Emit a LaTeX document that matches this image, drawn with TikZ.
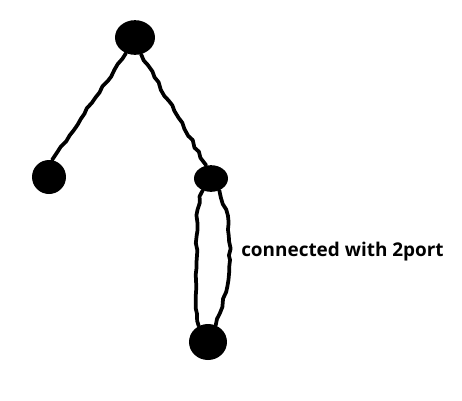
\documentclass[tikz,border=0pt]{standalone}
\usepackage{fontspec}
\setmainfont{Open Sans}
\usetikzlibrary{positioning}
\usetikzlibrary{shapes.geometric}
\usetikzlibrary{decorations.pathmorphing}

\tikzset{
  blob/.style={fill=black, ellipse, inner sep=0pt},
  wire/.style={black, line width=2.8pt, line cap=round, line join=round,
    decorate, decoration={random steps, segment length=5pt, amplitude=0.9pt}}
}

\begin{document}
\begin{tikzpicture}[x=0.75pt, y=-0.75pt]
\pgfmathsetseed{7}
\useasboundingbox (0,0) rectangle (462,401);

% nodes
\node[blob, minimum width=30pt, minimum height=26pt] (top) at (135,37.5) {};
\node[blob, minimum width=25.5pt, minimum height=25.5pt] (left) at (49,177) {};
\node[blob, minimum width=25.5pt, minimum height=20pt] (right) at (211,178.5) {};
\node[blob, minimum width=28.5pt, minimum height=27pt] (bottom) at (208,342) {};

% tree edges
\draw[wire] (top.-120) -- (left.80);
\draw[wire] (top.-70) -- (right.110);

% 2port
\draw[wire] (right.-125) to[out=-110, in=90] (197,255) to[out=-90, in=100] (bottom.120);
\draw[wire] (right.-55) to[out=-70, in=90] (230,260) to[out=-90, in=75] (bottom.65);

\node[anchor=west, inner sep=0pt, font=\bfseries\fontsize{14.2pt}{16pt}\selectfont] (label) at (241,251.5) {connected with 2port};

\end{tikzpicture}
\end{document}
